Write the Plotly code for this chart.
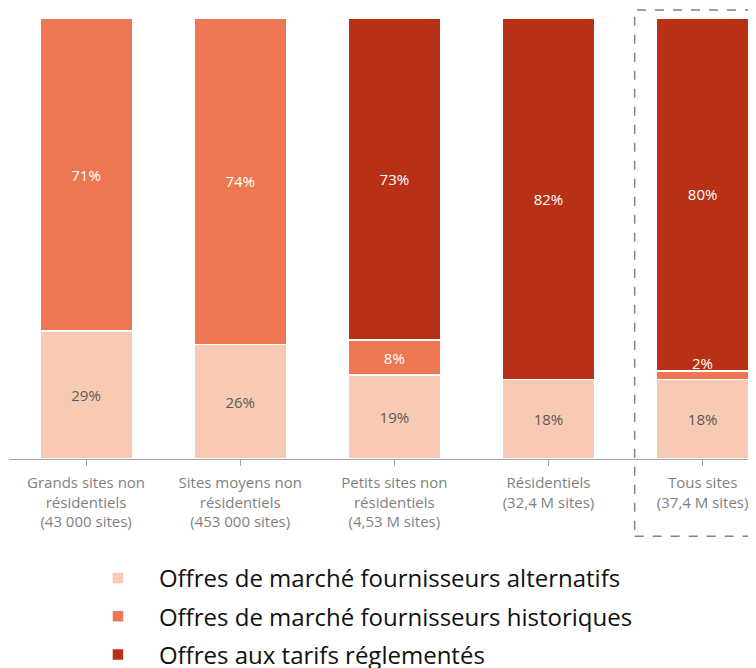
import plotly.graph_objects as go

categories = [
    "Grands sites non<br>résidentiels<br>(43 000 sites)",
    "Sites moyens non<br>résidentiels<br>(453 000 sites)",
    "Petits sites non<br>résidentiels<br>(4,53 M sites)",
    "Résidentiels<br>(32,4 M sites)",
    "Tous sites<br>(37,4 M sites)",
]
alternatifs = [29, 26, 19, 18, 18]
historiques = [71, 74, 8, 0, 2]
reglementes = [0, 0, 73, 82, 80]

series_names = [
    "Offres de marché fournisseurs alternatifs",
    "Offres de marché fournisseurs historiques",
    "Offres aux tarifs réglementés",
]
colors = ["#F8CAB3", "#EC7752", "#B83016"]
text_colors = ["#595959", "#FFFFFF", "#FFFFFF"]

FONT = "Open Sans"
x = list(range(len(categories)))

def labels(vals, min_inside=5):
    return [f"{v}%" if v >= min_inside else "" for v in vals]

fig = go.Figure()
for name, vals, col, tcol, grp in zip(series_names, [alternatifs, historiques, reglementes],
                                       colors, text_colors, ["a", "b", "c"]):
    fig.add_trace(go.Bar(
        x=x, y=vals, name=name, legendgroup=grp,
        marker=dict(color=col, line=dict(color="white", width=1.5)),
        width=0.6,
        text=labels(vals), textposition="inside", insidetextanchor="middle",
        textfont=dict(color=tcol, size=15, family=FONT),
        textangle=0, hoverinfo="skip",
    ))

# small segment label placed just above its segment
for i, v in enumerate(historiques):
    if 0 < v < 5:
        fig.add_annotation(
            x=x[i], y=alternatifs[i] + v, text=f"{v}%", showarrow=False,
            yanchor="bottom", yshift=-4,
            font=dict(color="white", size=15, family=FONT),
        )

fig.add_shape(type="rect", xref="paper", yref="paper",
              x0=0.8287, x1=1.06, y0=-0.175, y1=1.018,
              line=dict(color="#808080", width=1.5, dash="dash"))

fig.update_layout(
    width=756, height=668,
    margin=dict(l=1, r=0, t=10, b=217, autoexpand=False),
    barmode="stack",
    plot_bgcolor="white", paper_bgcolor="white",
    showlegend=True,
    legend=dict(
        orientation="v", traceorder="grouped", tracegroupgap=4,
        xref="paper", yref="paper",
        x=0.09, y=-0.220, xanchor="left", yanchor="top",
        itemwidth=72,
        font=dict(size=24, family=FONT, color="#111111"),
        itemclick=False,
    ),
    font=dict(family=FONT),
)
fig.update_xaxes(
    range=[-0.5, -0.5 + 747 / 152.5],
    tickmode="array", tickvals=x, ticktext=categories,
    tickson="boundaries", ticks="outside", ticklen=6, tickcolor="#A6A6A6",
    tickangle=0, ticklabelstandoff=4,
    showline=True, linecolor="#A6A6A6", linewidth=1,
    showgrid=False, zeroline=False,
    tickfont=dict(size=15, family=FONT, color="#7F7F7F"),
)
fig.update_yaxes(range=[0, 100], visible=False, showgrid=False)

fig.write_html("out.html")
